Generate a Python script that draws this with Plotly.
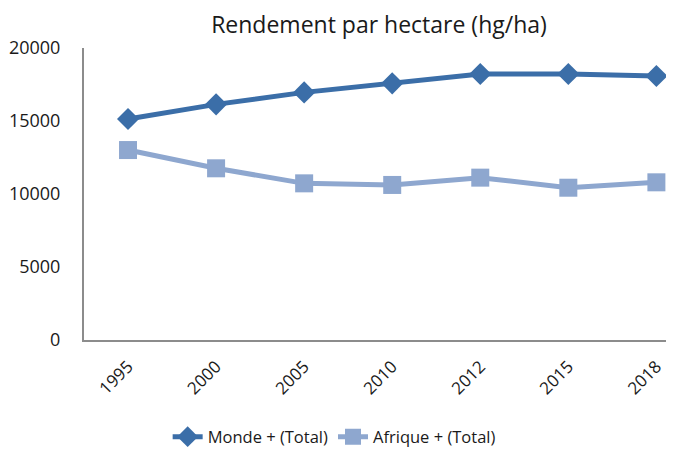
import plotly.graph_objects as go

# Data
years = ['1995', '2000', '2005', '2010', '2012', '2015', '2018']
monde = [15140, 16140, 16960, 17580, 18220, 18220, 18080]
afrique = [13010, 11760, 10730, 10620, 11120, 10430, 10800]

font_family = 'Open Sans, Noto Sans, sans-serif'

fig = go.Figure()

fig.add_trace(go.Scatter(
    x=years, y=monde, mode='lines+markers', name='Monde + (Total)',
    line=dict(color='#3b6ea8', width=5),
    marker=dict(symbol='diamond', size=17, color='#3b6ea8')
))

fig.add_trace(go.Scatter(
    x=years, y=afrique, mode='lines+markers', name='Afrique + (Total)',
    line=dict(color='#8ea7cf', width=5),
    marker=dict(symbol='square', size=18, color='#8ea7cf')
))

# page body has an 8px margin, so the figure is sized to fit the window
fig.update_layout(
    width=666, height=442,
    margin=dict(l=76, r=0, t=40, b=110, autoexpand=False),
    paper_bgcolor='white', plot_bgcolor='white',
    font=dict(family=font_family, size=16, color='#1a1a1a'),
    title=dict(text='Rendement par hectare (hg/ha)', x=0.5, xref='paper',
               y=0.962, yanchor='middle',
               font=dict(size=23, color='#1a1a1a')),
    showlegend=True,
    legend=dict(orientation='h', x=0.424, xanchor='center', y=-0.332,
                yanchor='middle', font=dict(size=16.5), tracegroupgap=0),
    xaxis=dict(type='category', range=[-0.5, 6.2], showgrid=False,
               showline=True, linecolor='#8c8c8c', linewidth=2,
               ticks='', tickangle=-45, tickfont=dict(size=17),
               automargin=False, ticklabelstandoff=8),
    yaxis=dict(range=[0, 20000], dtick=5000, tickformat='d', showgrid=False,
               showline=True, linecolor='#8c8c8c', linewidth=2,
               ticks='', zeroline=False, ticklabelstandoff=18,
               tickfont=dict(size=18), automargin=False),
)

fig.write_html('out.html')
